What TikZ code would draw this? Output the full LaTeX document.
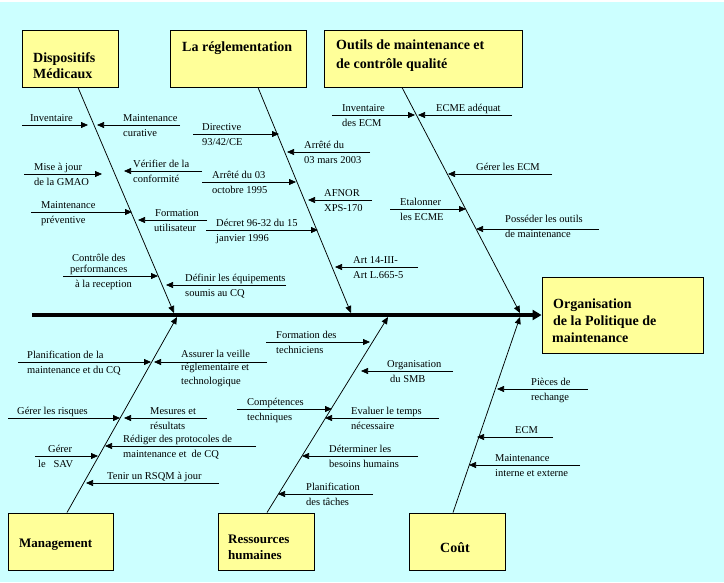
\documentclass[tikz,border=0pt]{standalone}
\usepackage{fontspec}
\setmainfont{Liberation Serif}
\usetikzlibrary{arrows.meta,positioning}
\definecolor{bgcyan}{HTML}{CCFFFF}
\definecolor{boxyellow}{HTML}{FFFF99}

\begin{document}
\begin{tikzpicture}[x=1pt,y=-1pt,
    box/.style={draw,fill=boxyellow,line width=0.9pt,inner sep=0pt},
    ttl/.style={anchor=base west,inner sep=0pt,font=\bfseries\fontsize{14}{17}\selectfont},
    lbl/.style={anchor=base west,inner sep=0pt,font=\fontsize{10.5}{12}\selectfont},
    br/.style={-{Triangle[length=7pt,width=6pt]},line width=0.75pt},
    rib/.style={-{Triangle[length=7pt,width=6pt]},line width=0.75pt},
    spine/.style={-{Triangle[length=9pt,width=10pt]},line width=4pt}]
    \useasboundingbox (0,0) rectangle (724,582);
    \fill[bgcyan] (0,2) rectangle (724,582);

    % the boxes
    \node[box,minimum width=96pt,minimum height=57pt] (dm) at (70,58.5) {};
    \node[box,minimum width=136pt,minimum height=57pt] (rg) at (238,58.5) {};
    \node[box,minimum width=198pt,minimum height=57pt] (ou) at (423,58.5) {};
    \node[box,minimum width=161pt,minimum height=76pt] (org) at (622.5,315) {};
    \node[box,minimum width=105pt,minimum height=57pt] (mg) at (60.5,541.5) {};
    \node[box,minimum width=96pt,minimum height=57pt] (rh) at (266,541.5) {};
    \node[box,minimum width=96pt,minimum height=57pt] (ct) at (457,541.5) {};

    \node[ttl] (dmA) at (33,62) {Dispositifs};
    \node[ttl] (dmB) at (33,78) {Médicaux};
    \node[ttl] (rgA) at (182,51) {La réglementation};
    \node[ttl] (ouA) at (336,49) {Outils de maintenance et};
    \node[ttl] (ouB) at (336,68) {de contrôle qualité};
    \node[ttl] (orgA) at (553,308) {Organisation};
    \node[ttl] (orgB) at (553,325) {de la Politique de};
    \node[ttl] (orgC) at (552,342) {maintenance};
    \node[ttl,font=\bfseries\fontsize{13}{16}\selectfont] (mgA) at (19,547) {Management};
    \node[ttl,font=\bfseries\fontsize{13}{16}\selectfont] (rhA) at (228,543) {Ressources};
    \node[ttl,font=\bfseries\fontsize{13}{16}\selectfont] (rhB) at (228,559) {humaines};
    \node[ttl] (ctA) at (440,552) {Coût};

    % spine and ribs
    \coordinate (sp0) at (32,315);
    \draw[spine] (sp0) -- (org.west);
    \coordinate[right=8pt of dm.south] (dmS);  \coordinate (dmE) at (174,313);
    \coordinate[right=20pt of rg.south] (rgS); \coordinate (rgE) at (351,313);
    \coordinate[left=21pt of ou.south] (ouS);  \coordinate (ouE) at (520,313);
    \coordinate[right=6.5pt of mg.north] (mgS); \coordinate (mgE) at (177,317);
    \coordinate[right=1pt of rh.north] (rhS);  \coordinate (rhE) at (388,317);
    \coordinate[left=4pt of ct.north] (ctS);   \coordinate (ctE) at (520,317);
    \draw[rib] (dmS) -- (dmE);
    \draw[rib] (rgS) -- (rgE);
    \draw[rib] (ouS) -- (ouE);
    \draw[rib] (mgS) -- (mgE);
    \draw[rib] (rhS) -- (rhE);
    \draw[rib] (ctS) -- (ctE);

    % Dispositifs Medicaux
    \coordinate (inv0) at (22,125); \coordinate (inv1) at (88,125);
    \draw[br] (inv0) -- (inv1);
    \node[lbl] (invA) at (30,121) {Inventaire};
    \coordinate (mcu0) at (180,125); \coordinate (mcu1) at (97,125);
    \draw[br] (mcu0) -- (mcu1);
    \node[lbl] (mcuA) at (123,121) {Maintenance};
    \node[lbl] (mcuB) at (123,136) {curative};
    \coordinate (maj0) at (24,174); \coordinate (maj1) at (102,174);
    \draw[br] (maj0) -- (maj1);
    \node[lbl] (majA) at (34,170) {Mise à jour};
    \node[lbl] (majB) at (34,185) {de la GMAO};
    \coordinate (vrf0) at (202,171); \coordinate (vrf1) at (124,171);
    \draw[br] (vrf0) -- (vrf1);
    \node[lbl] (vrfA) at (133,167) {Vérifier de la};
    \node[lbl] (vrfB) at (133,182) {conformité};
    \coordinate (mpr0) at (31,212); \coordinate (mpr1) at (132,212);
    \draw[br] (mpr0) -- (mpr1);
    \node[lbl] (mprA) at (41,208) {Maintenance};
    \node[lbl] (mprB) at (41,223) {préventive};
    \coordinate (fut0) at (207,220); \coordinate (fut1) at (138,220);
    \draw[br] (fut0) -- (fut1);
    \node[lbl] (futA) at (155,216) {Formation};
    \node[lbl] (futB) at (154,231) {utilisateur};
    \coordinate (ctl0) at (63,276); \coordinate (ctl1) at (158,276);
    \draw[br] (ctl0) -- (ctl1);
    \node[lbl] (ctlA) at (72,261) {Contrôle des};
    \node[lbl] (ctlB) at (70,272) {performances};
    \node[lbl] (ctlC) at (75,287) {à la reception};
    \coordinate (dfn0) at (286,285); \coordinate (dfn1) at (166,285);
    \draw[br] (dfn0) -- (dfn1);
    \node[lbl] (dfnA) at (185,281) {Définir les équipements};
    \node[lbl] (dfnB) at (185,296) {soumis au CQ};

    % La reglementation
    \coordinate (dir0) at (193,134); \coordinate (dir1) at (279,134);
    \draw[br] (dir0) -- (dir1);
    \node[lbl] (dirA) at (202,130) {Directive};
    \node[lbl] (dirB) at (202,145) {93/42/CE};
    \coordinate (a030) at (370,152); \coordinate (a031) at (287,152);
    \draw[br] (a030) -- (a031);
    \node[lbl] (a03A) at (304,148) {Arrêté du};
    \node[lbl] (a03B) at (304,163) {03 mars 2003};
    \coordinate (a950) at (202,182); \coordinate (a951) at (296,182);
    \draw[br] (a950) -- (a951);
    \node[lbl] (a95A) at (212,178) {Arrêté du 03};
    \node[lbl] (a95B) at (212,193) {octobre 1995};
    \coordinate (afn0) at (372,200); \coordinate (afn1) at (308,200);
    \draw[br] (afn0) -- (afn1);
    \node[lbl] (afnA) at (324,196) {AFNOR};
    \node[lbl] (afnB) at (324,211) {XPS-170};
    \coordinate (dec0) at (206,230); \coordinate (dec1) at (318,230);
    \draw[br] (dec0) -- (dec1);
    \node[lbl] (decA) at (216,226) {Décret 96-32 du 15};
    \node[lbl] (decB) at (216,241) {janvier 1996};
    \coordinate (art0) at (418,267); \coordinate (art1) at (335,267);
    \draw[br] (art0) -- (art1);
    \node[lbl] (artA) at (353,263) {Art 14-III-};
    \node[lbl] (artB) at (353,278) {Art L.665-5};

    % Outils
    \coordinate (iec0) at (332,115); \coordinate (iec1) at (415,115);
    \draw[br] (iec0) -- (iec1);
    \node[lbl] (iecA) at (342,111) {Inventaire};
    \node[lbl] (iecB) at (342,126) {des ECM};
    \coordinate (ead0) at (512,115); \coordinate (ead1) at (418,115);
    \draw[br] (ead0) -- (ead1);
    \node[lbl] (eadA) at (436,111) {ECME adéquat};
    \coordinate (gec0) at (552,174); \coordinate (gec1) at (448,174);
    \draw[br] (gec0) -- (gec1);
    \node[lbl] (gecA) at (476,170) {Gérer les ECM};
    \coordinate (eta0) at (390,209); \coordinate (eta1) at (466,209);
    \draw[br] (eta0) -- (eta1);
    \node[lbl] (etaA) at (400,205) {Etalonner};
    \node[lbl] (etaB) at (400,220) {les ECME};
    \coordinate (pos0) at (599,229); \coordinate (pos1) at (476,229);
    \draw[br] (pos0) -- (pos1);
    \node[lbl] (posA) at (505,222) {Posséder les outils};
    \node[lbl] (posB) at (505,237) {de maintenance};

    % Management
    \coordinate (plm0) at (18,362); \coordinate (plm1) at (151,362);
    \draw[br] (plm0) -- (plm1);
    \node[lbl] (plmA) at (27,358) {Planification de la};
    \node[lbl] (plmB) at (27,373) {maintenance et du CQ};
    \coordinate (asv0) at (267,362); \coordinate (asv1) at (154,362);
    \draw[br] (asv0) -- (asv1);
    \node[lbl] (asvA) at (181,357) {Assurer la veille};
    \node[lbl] (asvB) at (181,370) {réglementaire et};
    \node[lbl] (asvC) at (181,384) {technologique};
    \coordinate (grq0) at (8,418); \coordinate (grq1) at (120,418);
    \draw[br] (grq0) -- (grq1);
    \node[lbl] (grqA) at (17,414) {Gérer les risques};
    \coordinate (mes0) at (207,418); \coordinate (mes1) at (124,418);
    \draw[br] (mes0) -- (mes1);
    \node[lbl] (mesA) at (150,414) {Mesures et};
    \node[lbl] (mesB) at (150,429) {résultats};
    \coordinate (red0) at (256,446); \coordinate (red1) at (105,446);
    \draw[br] (red0) -- (red1);
    \node[lbl] (redA) at (123,442) {Rédiger des protocoles de};
    \node[lbl] (redB) at (123,457) {maintenance et~ de CQ};
    \coordinate (sav0) at (35,456); \coordinate (sav1) at (98,456);
    \draw[br] (sav0) -- (sav1);
    \node[lbl] (savA) at (48,452) {Gérer};
    \node[lbl] (savB) at (38,467) {le~~ SAV};
    \coordinate (rsq0) at (219,483); \coordinate (rsq1) at (86,483);
    \draw[br] (rsq0) -- (rsq1);
    \node[lbl] (rsqA) at (107,479) {Tenir un RSQM à jour};

    % Ressources humaines
    \coordinate (fte0) at (266,342); \coordinate (fte1) at (370,342);
    \draw[br] (fte0) -- (fte1);
    \node[lbl] (fteA) at (276,338) {Formation des};
    \node[lbl] (fteB) at (276,353) {techniciens};
    \coordinate (smb0) at (453,371); \coordinate (smb1) at (361,371);
    \draw[br] (smb0) -- (smb1);
    \node[lbl] (smbA) at (387,367) {Organisation};
    \node[lbl] (smbB) at (390,382) {du SMB};
    \coordinate (cpt0) at (237,409); \coordinate (cpt1) at (332,409);
    \draw[br] (cpt0) -- (cpt1);
    \node[lbl] (cptA) at (247,405) {Compétences};
    \node[lbl] (cptB) at (247,420) {techniques};
    \coordinate (evt0) at (439,418); \coordinate (evt1) at (325,418);
    \draw[br] (evt0) -- (evt1);
    \node[lbl] (evtA) at (351,414) {Evaluer le temps};
    \node[lbl] (evtB) at (351,429) {nécessaire};
    \coordinate (dbh0) at (418,456); \coordinate (dbh1) at (302,456);
    \draw[br] (dbh0) -- (dbh1);
    \node[lbl] (dbhA) at (329,452) {Déterminer les};
    \node[lbl] (dbhB) at (329,467) {besoins humains};
    \coordinate (pft0) at (373,494); \coordinate (pft1) at (278,494);
    \draw[br] (pft0) -- (pft1);
    \node[lbl] (pftA) at (306,490) {Planification};
    \node[lbl] (pftB) at (306,505) {des tâches};

    % Cout
    \coordinate (pce0) at (588,389); \coordinate (pce1) at (497,389);
    \draw[br] (pce0) -- (pce1);
    \node[lbl] (pceA) at (531,385) {Pièces de};
    \node[lbl] (pceB) at (531,400) {rechange};
    \coordinate (ecm0) at (553,437); \coordinate (ecm1) at (477,437);
    \draw[br] (ecm0) -- (ecm1);
    \node[lbl] (ecmA) at (515,433) {ECM};
    \coordinate (mie0) at (580,465); \coordinate (mie1) at (469,465);
    \draw[br] (mie0) -- (mie1);
    \node[lbl] (mieA) at (495,461) {Maintenance};
    \node[lbl] (mieB) at (495,476) {interne et externe};
\end{tikzpicture}
\end{document}
